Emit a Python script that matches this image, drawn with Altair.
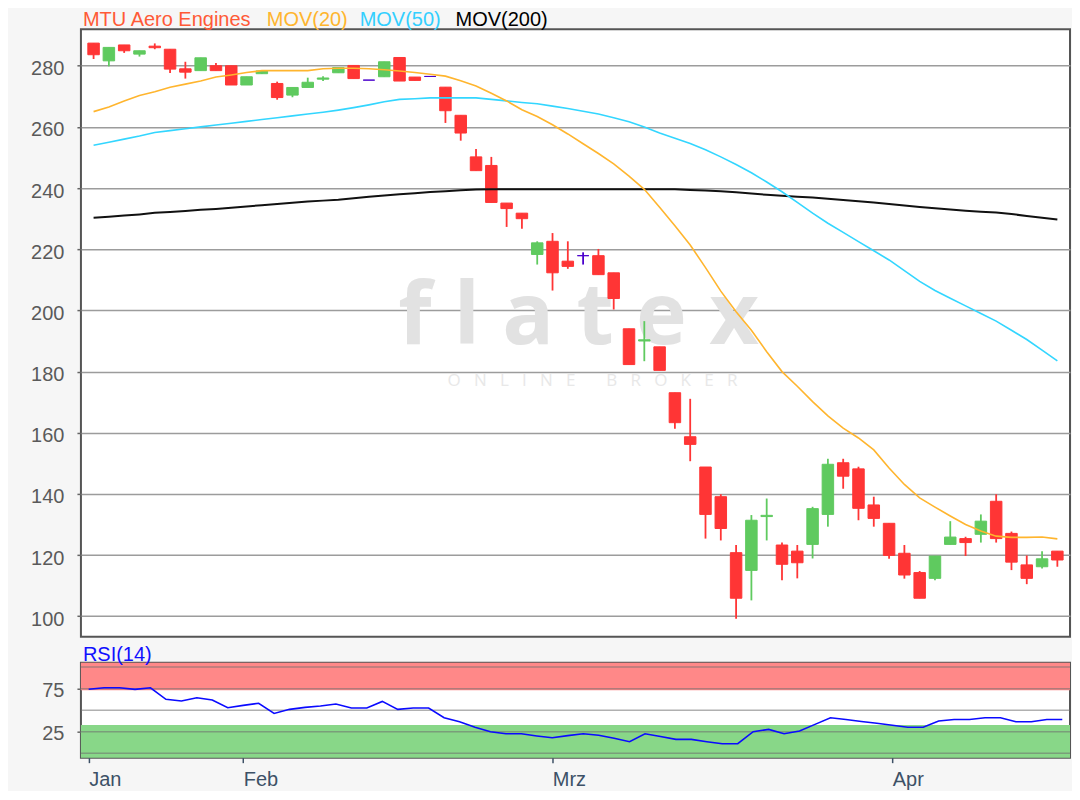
import altair as alt
import pandas as pd

# ---------------- data ----------------
idx = list(range(64))
opens = [287.4, 281.6, 286.8, 283.8, 286.4, 285.4, 279.0, 278.4, 280.0, 280.0,
         273.7, 277.4, 274.2, 270.4, 272.9, 275.6, 277.7, 280.1, 275.3, 276.4,
         282.7, 276.3, 276.5, 273.0, 263.8, 250.2, 247.4, 235.1, 231.8, 218.3,
         222.6, 216.1, 217.9, 217.9, 212.3, 194.0, 190.0, 188.1, 173.1, 158.7,
         148.8, 139.1, 120.8, 115.0, 132.6, 123.3, 121.3, 123.5, 133.3, 150.2,
         148.2, 136.4, 130.4, 120.6, 114.3, 112.4, 123.5, 125.4, 126.8, 137.6,
         127.1, 116.8, 116.2, 121.3]
highs = [287.4, 286.0, 286.8, 284.9, 287.3, 285.4, 281.3, 282.6, 280.9, 280.0,
         276.4, 278.3, 274.8, 272.9, 276.1, 276.6, 279.4, 280.1, 275.3, 281.3,
         282.7, 276.3, 276.5, 273.0, 263.8, 252.8, 250.2, 235.1, 231.8, 222.6,
         225.3, 222.6, 219.0, 220.1, 212.3, 194.0, 196.5, 188.1, 173.1, 171.1,
         148.8, 139.9, 123.3, 133.1, 138.5, 124.1, 123.3, 135.8, 151.5, 151.5,
         148.9, 139.1, 130.4, 123.3, 114.8, 119.7, 131.1, 126.0, 133.3, 139.9,
         127.7, 119.9, 121.3, 121.3]
lows = [282.2, 279.8, 284.2, 283.0, 285.4, 277.6, 275.8, 278.4, 278.4, 273.7,
        273.7, 277.3, 268.9, 269.7, 272.9, 275.0, 277.7, 275.8, 275.3, 276.4,
        275.0, 275.2, 276.5, 261.3, 255.5, 245.7, 235.3, 227.3, 226.7, 215.0,
        206.5, 213.6, 215.0, 211.7, 200.3, 182.3, 183.4, 180.4, 161.3, 150.7,
        125.4, 124.8, 99.2, 105.2, 124.8, 111.8, 112.4, 118.9, 129.3, 141.7,
        131.4, 129.3, 118.8, 112.3, 105.9, 111.8, 123.5, 119.7, 124.1, 124.1,
        115.1, 110.5, 115.6, 116.2]
closes = [283.6, 286.0, 284.9, 284.9, 285.9, 278.9, 277.9, 282.6, 278.4, 273.7,
          276.4, 278.3, 269.6, 272.9, 274.6, 276.0, 279.4, 275.8, 275.3, 281.3,
          275.0, 275.2, 276.5, 265.3, 258.0, 245.7, 235.3, 233.3, 230.0, 222.1,
          212.3, 214.4, 217.9, 211.7, 203.9, 182.3, 190.4, 180.4, 163.3, 156.2,
          133.3, 128.7, 105.9, 131.4, 133.0, 117.0, 117.5, 135.2, 149.7, 145.8,
          135.3, 132.0, 119.9, 113.5, 105.9, 119.7, 125.9, 124.1, 131.1, 125.4,
          117.7, 112.4, 118.8, 118.4]

ma20 = [265.0, 266.5, 268.5, 270.3, 271.5, 273.0, 274.0, 275.0, 276.3, 277.0,
        277.8, 278.4, 278.4, 278.4, 278.4, 279.0, 279.2, 279.2, 279.0, 278.7,
        278.3, 277.8, 277.2, 276.6, 275.1, 273.4, 271.0, 268.5, 265.6, 263.4,
        260.7, 257.7, 254.5, 251.3, 247.9, 243.9, 239.6, 233.7, 227.7, 221.4,
        214.0, 206.3, 199.6, 193.5, 186.5, 180.0, 175.2, 170.2, 165.5, 161.5,
        158.3, 154.4, 148.5, 143.1, 138.7, 135.7, 132.8, 130.0, 127.9, 126.2,
        125.8, 125.8, 125.9, 125.3]
ma50 = [254.0, 255.0, 256.0, 257.0, 258.2, 258.8, 259.4, 260.0, 260.6, 261.2,
        261.8, 262.4, 263.0, 263.6, 264.2, 264.8, 265.5, 266.3, 267.2, 268.2,
        269.0, 269.2, 269.5, 269.5, 269.5, 269.5, 269.0, 268.5, 268.0, 267.6,
        266.8, 266.0, 265.1, 264.2, 263.0, 261.7, 260.0, 258.0, 256.3, 254.6,
        252.5, 250.2, 247.7, 245.0, 242.0, 238.8, 235.3, 231.8, 228.5, 225.5,
        222.5, 219.5, 216.5, 213.0, 209.5, 206.5, 204.0, 201.5, 199.0, 196.5,
        193.5, 190.5, 187.0, 183.5]
ma200 = [230.3, 230.6, 231.0, 231.4, 231.9, 232.2, 232.5, 232.9, 233.2, 233.6,
         234.0, 234.4, 234.8, 235.2, 235.6, 235.9, 236.2, 236.7, 237.2, 237.6,
         238.0, 238.3, 238.7, 239.0, 239.3, 239.5, 239.6, 239.6, 239.6, 239.6,
         239.6, 239.6, 239.6, 239.6, 239.6, 239.6, 239.6, 239.6, 239.6, 239.4,
         239.2, 239.0, 238.6, 238.2, 237.8, 237.5, 237.2, 236.9, 236.5, 236.1,
         235.7, 235.3, 234.8, 234.3, 233.8, 233.4, 233.0, 232.6, 232.3, 232.0,
         231.5, 230.9, 230.3, 229.7]
rsi = [74.2, 76.0, 76.0, 74.2, 76.0, 62.6, 60.7, 64.5, 61.8, 52.8,
       55.6, 58.0, 46.3, 51.0, 53.3, 54.8, 57.2, 52.5, 52.5, 60.2,
       51.0, 52.5, 52.5, 41.2, 36.6, 30.3, 25.1, 22.7, 22.7, 20.2,
       18.0, 20.5, 22.7, 21.0, 17.5, 13.5, 22.7, 19.5, 16.2, 16.2,
       13.5, 11.2, 11.2, 25.1, 27.8, 22.7, 25.8, 33.6, 41.2, 39.3,
       37.0, 34.8, 32.5, 30.3, 30.3, 37.4, 39.3, 39.3, 41.2, 41.2,
       36.6, 36.6, 39.3, 39.3]

month_idx = [0, 10, 30, 52]
month_labels = ["Jan", "Feb", "Mrz", "Apr"]
price_ticks = [100, 120, 140, 160, 180, 200, 220, 240, 260, 280]
rsi_ticks = [25, 75]
rsi_grid = [0, 25, 50, 75, 100]
band_lo = [73, -5]
band_hi = [105, 33]
band_name = ["overbought", "oversold"]

title_parts = ["MTU Aero Engines", "MOV(20)", "MOV(50)", "MOV(200)"]
title_colors = ["#ff5a36", "#ffb52e", "#33cfff", "#000000"]
title_x = [2, 186, 279, 375]

NB = "\u00a0"
wm_main = "f l a t e x"
wm_sub = (NB * 3).join("ONLINE") + NB * 7 + (NB * 3).join("BROKER")

# ---------------- frames ----------------
direction = ["up" if c > o else ("down" if c < o else "flat") for o, c in zip(opens, closes)]
candles = pd.DataFrame({"i": idx, "open": opens, "high": highs, "low": lows,
                        "close": closes, "dir": direction})
mas = pd.DataFrame({"i": idx, "ma20": ma20, "ma50": ma50, "ma200": ma200})
rsi_df = pd.DataFrame({"i": idx, "rsi": rsi})
bands = pd.DataFrame({"lo": band_lo, "hi": band_hi, "band": band_name})
grid_df = pd.DataFrame({"v": rsi_grid})

W = 990
H_MAIN = 608
H_RSI = 95
FONT = "Liberation Sans"

x_scale = alt.Scale(domain=[-0.5, 63.5], nice=False, zero=False)
y_main = alt.Scale(domain=[93.3, 291.9], nice=False, zero=False)
y_rsi = alt.Scale(domain=[-5, 105], nice=False, zero=False)
dir_scale = alt.Scale(domain=["up", "down", "flat"], range=["#5fca5f", "#ff3535", "#4a00cc"])

main_y_axis = alt.Axis(values=price_ticks, grid=True, gridColor="#9c9c9c", gridWidth=1.5,
                       domain=False, tickSize=4, tickColor="#666666", tickWidth=1.5,
                       labelFontSize=20, labelColor="#5a5a5a", labelPadding=13,
                       labelOffset=3, labelFont=FONT, title=None)

label_expr = ""
for v, name in zip(month_idx, month_labels):
    label_expr += f"datum.value == {v} ? '{name}' : "
label_expr += "''"

x_axis = alt.Axis(values=month_idx, labelExpr=label_expr, labelAlign="left", grid=False,
                  domain=False, tickSize=5, tickColor="#3d5166", tickWidth=1.5,
                  labelFontSize=20, labelColor="#3d5166", labelPadding=7,
                  labelFont=FONT, title=None)
rsi_y_axis = alt.Axis(values=rsi_ticks, grid=False, domain=False, tickSize=4,
                      tickColor="#666666", tickWidth=1.5, labelFontSize=20,
                      labelColor="#5a5a5a", labelPadding=13, labelOffset=2,
                      labelFont=FONT, title=None)

X = alt.X("i:Q", scale=x_scale, axis=None)

# watermark
wm = alt.Chart(pd.DataFrame({"t": [wm_main]})).mark_text(
    font="Open Sans", fontSize=86, fontWeight="bold", color="#e2e2e2",
    align="center", baseline="alphabetic"
).encode(x=alt.value(498), y=alt.value(315), text="t:N")
wm2 = alt.Chart(pd.DataFrame({"t": [wm_sub]})).mark_text(
    font="Open Sans", fontSize=17, color="#e8e8e8", align="center", baseline="alphabetic"
).encode(x=alt.value(512), y=alt.value(357), text="t:N")

wicks = alt.Chart(candles).mark_rule(strokeWidth=1.8).encode(
    x=X,
    y=alt.Y("low:Q", scale=y_main, axis=main_y_axis),
    y2="high:Q",
    color=alt.Color("dir:N", scale=dir_scale, legend=None),
)
bodies = alt.Chart(candles).mark_bar(size=11.5, strokeWidth=1).encode(
    x=X,
    y=alt.Y("open:Q", scale=y_main, axis=main_y_axis),
    y2="close:Q",
    color=alt.Color("dir:N", scale=dir_scale, legend=None),
    stroke=alt.Stroke("dir:N", scale=dir_scale, legend=None),
)

def ma_line(field, color, width):
    return alt.Chart(mas).mark_line(color=color, strokeWidth=width).encode(
        x=X, y=alt.Y(f"{field}:Q", scale=y_main, axis=main_y_axis))

l200 = ma_line("ma200", "#111111", 2)
l50 = ma_line("ma50", "#33d6ff", 1.6)
l20 = ma_line("ma20", "#ffb52e", 1.6)

title_layers = []
for t, c, xv in zip(title_parts, title_colors, title_x):
    title_layers.append(
        alt.Chart(pd.DataFrame({"t": [t]})).mark_text(
            font=FONT, fontSize=20, color=c, align="left", baseline="alphabetic"
        ).encode(x=alt.value(xv), y=alt.value(-3), text="t:N")
    )

main = alt.layer(wm, wm2, wicks, bodies, l200, l50, l20, *title_layers).properties(
    width=W, height=H_MAIN)

# RSI panel
band_layer = alt.Chart(bands).mark_rect().encode(
    y=alt.Y("lo:Q", scale=y_rsi, axis=rsi_y_axis),
    y2="hi:Q",
    color=alt.Color("band:N", scale=alt.Scale(domain=band_name, range=["#ff8888", "#88d788"]),
                    legend=None),
)
grid_layer = alt.Chart(grid_df).mark_rule(color="#6f6f6f", strokeWidth=1.5, opacity=0.55).encode(
    y=alt.Y("v:Q", scale=y_rsi, axis=rsi_y_axis))
rsi_line = alt.Chart(rsi_df).mark_line(color="#0a0aff", strokeWidth=1.6).encode(
    x=alt.X("i:Q", scale=x_scale, axis=x_axis),
    y=alt.Y("rsi:Q", scale=y_rsi, axis=rsi_y_axis))
rsi_title = alt.Chart(pd.DataFrame({"t": ["RSI(14)"]})).mark_text(
    font=FONT, fontSize=20, color="#1010ff", align="left", baseline="alphabetic"
).encode(x=alt.value(2), y=alt.value(-2), text="t:N")

rsi_panel = alt.layer(band_layer, grid_layer, rsi_line, rsi_title).properties(
    width=W, height=H_RSI)

chart = alt.vconcat(main, rsi_panel, spacing=26, bounds="flush").resolve_scale(
    color="independent", stroke="independent"
).properties(
    background="#f6f6f6",
    padding={"left": 21, "top": 1, "right": 0, "bottom": 0},
).configure_view(fill="white", stroke="#555555", strokeWidth=2)

chart.save("out.html", embed_options={"renderer": "svg", "actions": False})
